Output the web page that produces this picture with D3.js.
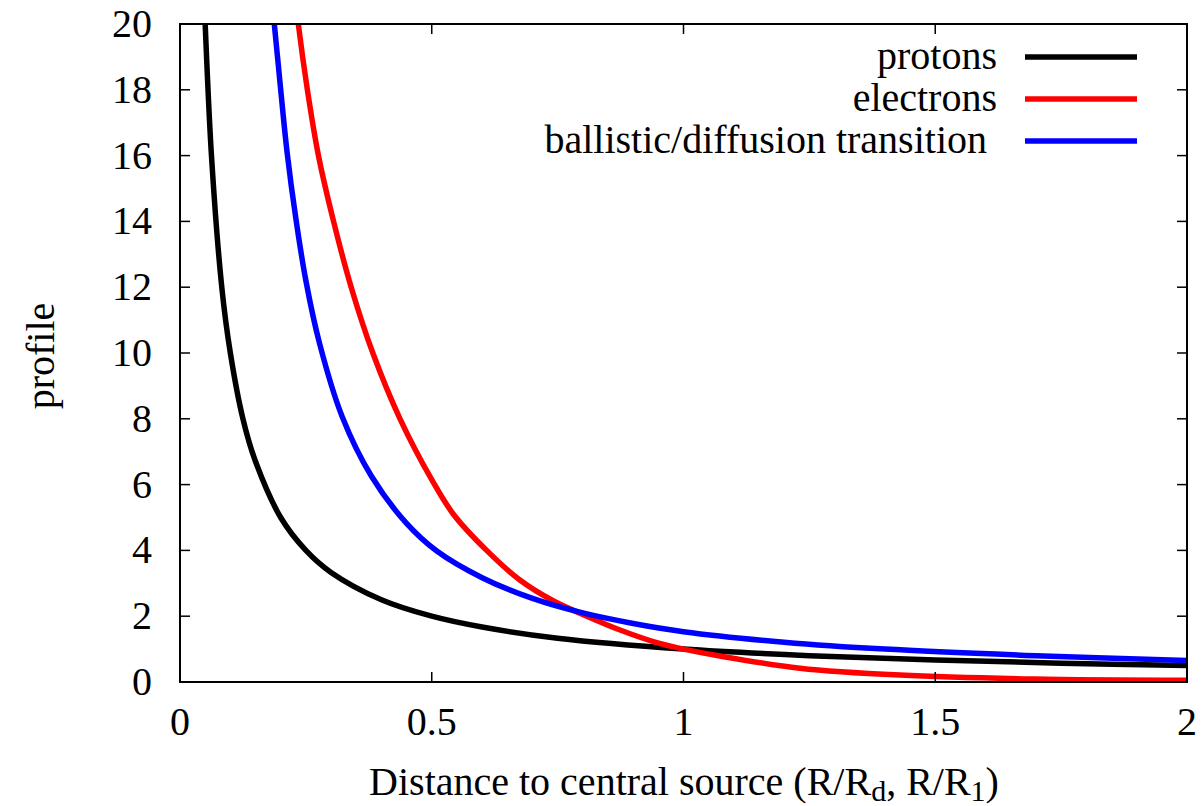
<!DOCTYPE html>
<html>
<head>
<meta charset="utf-8">
<script src="https://cdn.jsdelivr.net/npm/d3@7"></script>
<style>body { margin: 0; background: #fff; }</style>
</head>
<body>
<div id="chart"></div>
<script>
// values
const protonX = [0.045, 0.05, 0.0625, 0.083, 0.1, 0.125, 0.15, 0.2, 0.25, 0.3, 0.4, 0.5, 0.6, 0.75, 1.0, 1.25, 1.5, 1.75, 2.0];
const protonY = [22, 20, 16, 12, 10, 8, 6.7, 5, 4, 3.33, 2.5, 2, 1.67, 1.33, 1.0, 0.8, 0.67, 0.57, 0.5];

const electronX = [0.228, 0.235, 0.253, 0.275, 0.305, 0.34, 0.383, 0.437, 0.5, 0.543, 0.609, 0.675, 0.741, 0.808, 0.874, 0.94, 1.0, 1.072, 1.231, 1.43, 1.695, 2.0];
const electronY = [21, 20, 18, 16, 14, 12, 10, 8, 6.15, 5.1, 4.0, 3.1, 2.47, 2.0, 1.58, 1.23, 1.0, 0.79, 0.42, 0.21, 0.09, 0.05];

const transitionX = [0.18, 0.186, 0.2, 0.213, 0.23, 0.25, 0.277, 0.322, 0.38, 0.45, 0.51, 0.6, 0.7, 0.8, 0.9, 1.0, 1.2, 1.4, 1.7, 2.0];
const transitionY = [21, 20.2, 18, 16.06, 14.1, 12.2, 10.3, 8.07, 6.26, 4.82, 3.98, 3.17, 2.54, 2.1, 1.78, 1.53, 1.21, 1.0, 0.8, 0.65];

const seriesNames = ['protons', 'electrons', 'ballistic/diffusion transition'];
const seriesColors = ['#000000', '#ff0000', '#0000ff'];

const xTicks = [0, 0.5, 1, 1.5, 2];
const yTicks = [0, 2, 4, 6, 8, 10, 12, 14, 16, 18, 20];

// set the dimensions and margins of the graph
const margin = { top: 24, right: 14, bottom: 124, left: 180 },
  width = 1201 - margin.left - margin.right,
  height = 806 - margin.top - margin.bottom;

const svg = d3.select('#chart')
  .append('svg')
  .attr('width', 1201)
  .attr('height', 806);

const g = svg.append('g')
  .attr('transform', `translate(${margin.left}, ${margin.top})`);

const x = d3.scaleLinear().domain([0, 2]).range([0, width]);
const y = d3.scaleLinear().domain([0, 20]).range([height, 0]);

const defs = svg.append('defs');
defs.append('clipPath').attr('id', 'clip')
  .append('rect').attr('width', width).attr('height', height);

const series = [
  { xs: protonX, ys: protonY },
  { xs: electronX, ys: electronY },
  { xs: transitionX, ys: transitionY },
];

const line = d3.line()
  .x(d => x(d[0]))
  .y(d => y(d[1]))
  .curve(d3.curveCatmullRom.alpha(0.5));

// curves
g.append('g').attr('clip-path', 'url(#clip)')
  .selectAll('path')
  .data(series)
  .join('path')
  .attr('d', s => line(s.xs.map((v, i) => [v, s.ys[i]])))
  .attr('fill', 'none')
  .attr('stroke', (s, i) => seriesColors[i])
  .attr('stroke-width', 5.5);

// ticks on all four sides, pointing inward
const tickLen = 10;
const ticks = g.append('g').attr('stroke', '#000').attr('stroke-width', 1.5);
xTicks.forEach(t => {
  ticks.append('line').attr('x1', x(t)).attr('x2', x(t)).attr('y1', height).attr('y2', height - tickLen);
  ticks.append('line').attr('x1', x(t)).attr('x2', x(t)).attr('y1', 0).attr('y2', tickLen);
});
yTicks.forEach(t => {
  ticks.append('line').attr('x1', 0).attr('x2', tickLen).attr('y1', y(t)).attr('y2', y(t));
  ticks.append('line').attr('x1', width).attr('x2', width - tickLen).attr('y1', y(t)).attr('y2', y(t));
});

// frame
g.append('rect')
  .attr('width', width)
  .attr('height', height)
  .attr('fill', 'none')
  .attr('stroke', '#000')
  .attr('stroke-width', 2);

// all texts in one layer
const labels = [];
xTicks.forEach(t => labels.push({ x: margin.left + x(t), y: margin.top + height + 53, anchor: 'middle', text: String(t) }));
yTicks.forEach(t => labels.push({ x: margin.left - 28, y: margin.top + y(t) + 13, anchor: 'end', text: String(t) }));
seriesNames.forEach((name, i) => labels.push({ x: i === 2 ? 987 : 997, y: 69 + i * 42, anchor: 'end', text: name }));

svg.selectAll('text.lbl')
  .data(labels)
  .join('text')
  .attr('class', 'lbl')
  .attr('x', d => d.x)
  .attr('y', d => d.y)
  .attr('text-anchor', d => d.anchor)
  .attr('font-family', 'Liberation Serif')
  .attr('font-size', 40)
  .text(d => d.text);

// axis titles
const xTitle = svg.append('text')
  .attr('x', 684)
  .attr('y', 795)
  .attr('text-anchor', 'middle')
  .attr('font-family', 'Liberation Serif')
  .attr('font-size', 40);
xTitle.append('tspan').text('Distance to central source (R/R');
xTitle.append('tspan').attr('dy', 6).attr('font-size', 30).text('d');
xTitle.append('tspan').attr('dy', -6).text(', R/R');
xTitle.append('tspan').attr('dy', 6).attr('font-size', 30).text('1');
xTitle.append('tspan').attr('dy', -6).text(')');

svg.append('text')
  .attr('transform', 'translate(54, 356) rotate(-90)')
  .attr('text-anchor', 'middle')
  .attr('font-family', 'Liberation Serif')
  .attr('font-size', 40)
  .text('profile');

// legend samples
seriesNames.forEach((name, i) => {
  const ly = 57 + i * 42;
  svg.append('line')
    .attr('x1', 1025).attr('x2', 1137)
    .attr('y1', ly).attr('y2', ly)
    .attr('stroke', seriesColors[i])
    .attr('stroke-width', 5.5);
});
</script>
</body>
</html>
